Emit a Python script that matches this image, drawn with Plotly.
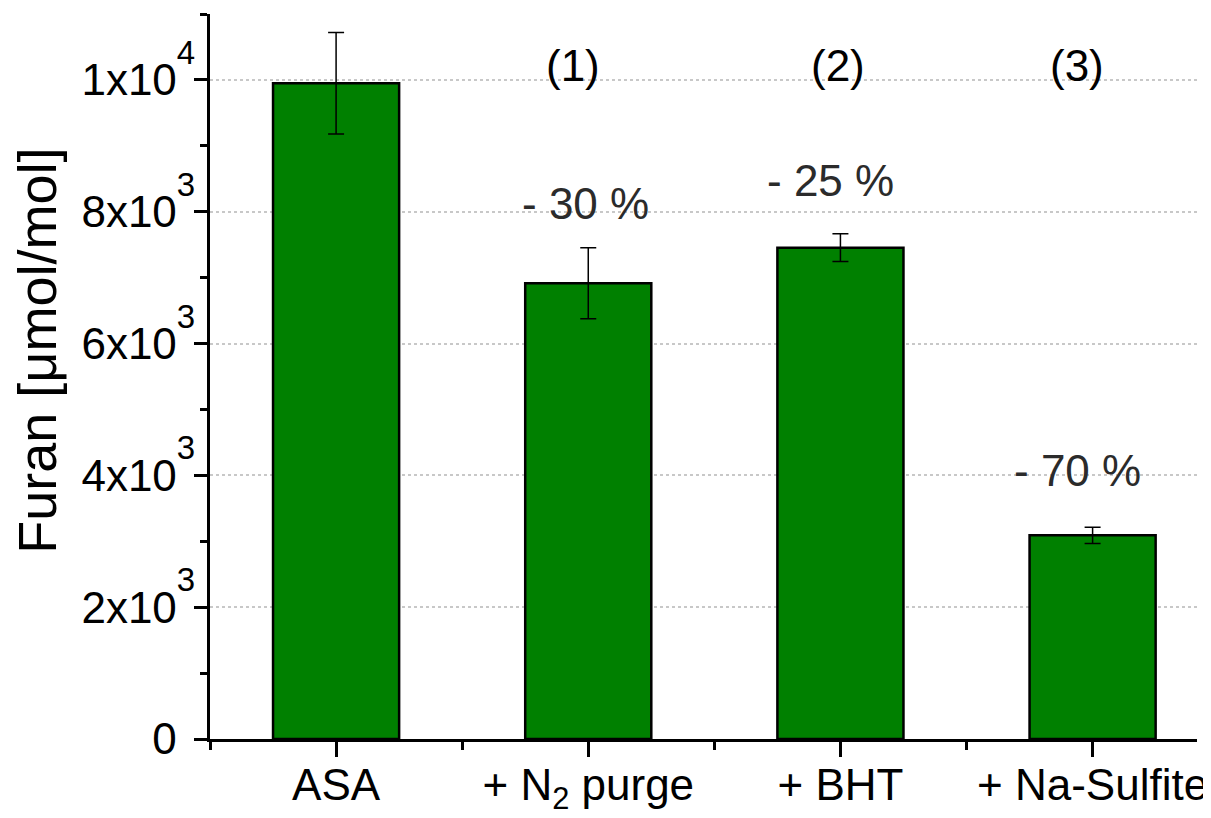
import plotly.graph_objects as go

categories = ["ASA", "+ N<sub>2</sub> purge", "+ BHT", "+ Na-Sulfite"]
furan = [9950, 6915, 7455, 3090]
furan_err = [770, 540, 210, 124]

ytick_vals = [0, 2000, 4000, 6000, 8000, 10000]
ytick_mant = ["0", "2x10", "4x10", "6x10", "8x10", "1x10"]
ytick_exp = ["", "3", "3", "3", "3", "4"]
y_title = "Furan [μmol/mol]"

group_labels = ["(1)", "(2)", "(3)"]
group_x = [0.94, 1.99, 2.94]
pct_labels = ["- 30 %", "- 25 %", "- 70 %"]
pct_x = [0.99, 1.96, 2.94]
pct_y = [8130, 8480, 4080]

FONT = "Liberation Sans"
xpos = list(range(len(categories)))


def sup_label(m, e):
    if e:
        return f"{m}<sup><sup><span style='font-size:33px'>{e}</span></sup></sup>"
    return (f"{m}<sup><sup><span style='font-size:33px;color:rgba(0,0,0,0)'>3"
            f"</span></sup></sup>")


ytick_text = [sup_label(m, e) for m, e in zip(ytick_mant, ytick_exp)]

fig = go.Figure()
fig.add_trace(go.Bar(
    x=xpos, y=furan, width=0.5,
    marker=dict(color="#008000", line=dict(color="black", width=2.5)),
    error_y=dict(type="data", array=furan_err, visible=True,
                 color="black", thickness=1.5, width=8),
    showlegend=False,
))

annotations = []
for lbl, x in zip(group_labels, group_x):
    annotations.append(dict(x=x, y=10220, xref="x", yref="y", text=lbl,
                            showarrow=False, font=dict(family=FONT, size=44, color="black"),
                            xanchor="center", yanchor="middle"))
for lbl, x, y in zip(pct_labels, pct_x, pct_y):
    annotations.append(dict(x=x, y=y, xref="x", yref="y", text=lbl,
                            showarrow=False, font=dict(family=FONT, size=44, color="#2b2b2b"),
                            xanchor="center", yanchor="middle"))
annotations.append(dict(x=0, y=0.5355, xref="paper", yref="paper", text=y_title,
                        textangle=-90, showarrow=False, xshift=-173,
                        font=dict(family=FONT, size=54, color="black"),
                        xanchor="center", yanchor="middle"))

# page body has an 8px margin, so the figure is sized/offset accordingly
fig.update_layout(
    width=1203, height=810,
    margin=dict(l=202, r=14, t=6, b=78.5),
    plot_bgcolor="white", paper_bgcolor="white",
    font=dict(family=FONT, color="black"),
    annotations=annotations,
    bargap=0.5,
)
fig.update_xaxes(
    range=[-0.5, 3.414], automargin=False,
    tickmode="array", tickvals=xpos, ticktext=categories,
    tickfont=dict(family=FONT, size=44, color="black"),
    ticklabelstandoff=-10,
    showline=True, linecolor="black", linewidth=3,
    ticks="outside", ticklen=15, tickwidth=3, tickcolor="black",
    showgrid=False, zeroline=False,
    minor=dict(tickmode="linear", tick0=0.5, dtick=1, ticks="outside",
               ticklen=8, tickwidth=3, tickcolor="black", showgrid=False),
)
fig.update_yaxes(
    range=[0, 11000], automargin=False,
    tickmode="array", tickvals=ytick_vals, ticktext=ytick_text,
    tickfont=dict(family=FONT, size=44, color="black"),
    ticklabelstandoff=-10,
    showline=True, linecolor="black", linewidth=3,
    ticks="outside", ticklen=13, tickwidth=3, tickcolor="black",
    showgrid=True, gridcolor="#c8c8c8", griddash="dot", gridwidth=1.5,
    zeroline=False,
    minor=dict(tickmode="linear", tick0=0, dtick=1000, ticks="outside",
               ticklen=7, tickwidth=3, tickcolor="black", showgrid=False),
)

fig.write_html("out.html")
